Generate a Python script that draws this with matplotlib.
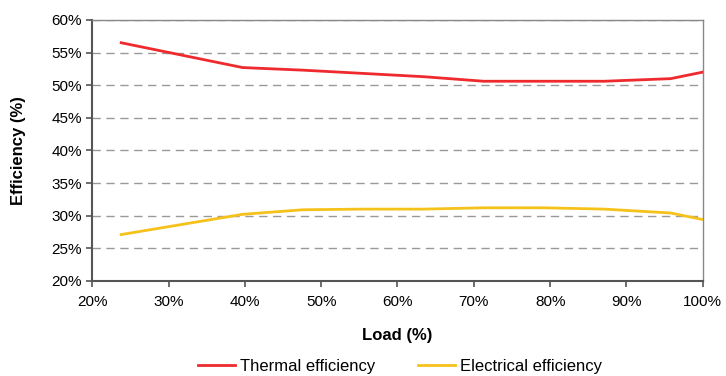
import matplotlib
matplotlib.use("Agg")
import matplotlib.pyplot as plt
from matplotlib.ticker import PercentFormatter
from matplotlib import font_manager

families = [f.name for f in font_manager.fontManager.ttflist]
base = "Liberation Sans Narrow" if "Liberation Sans Narrow" in families else "Liberation Sans"
plt.rcParams["font.family"] = [base, "DejaVu Sans"]

load = [23.8, 39.7, 47.6, 55.5, 63.4, 71.3, 79.2, 87.1, 95.8, 100.0]
thermal = [56.5, 52.7, 52.3, 51.8, 51.3, 50.6, 50.6, 50.6, 51.0, 52.0]
electrical = [27.1, 30.2, 30.9, 31.0, 31.0, 31.2, 31.2, 31.0, 30.4, 29.4]

fig = plt.figure(figsize=(7.26, 3.76), dpi=100)
ax = fig.add_axes([0.127, 0.253, 0.841, 0.694])

ax.plot(load, thermal, color="#ee2a2e", lw=2.0, label="Thermal efficiency", zorder=3)
ax.plot(load, electrical, color="#f5c21b", lw=2.0, label="Electrical efficiency", zorder=3)

ax.set_xlim(20, 100)
ax.set_ylim(20, 60)
ax.set_xticks(range(20, 101, 10))
ax.set_yticks(range(20, 61, 5))
ax.xaxis.set_major_formatter(PercentFormatter(decimals=0))
ax.yaxis.set_major_formatter(PercentFormatter(decimals=0))
ax.tick_params(axis="both", labelsize=11, length=4, width=1.2, color="#555555", direction="out")
ax.tick_params(axis="x", pad=6)

ax.yaxis.grid(True, linestyle=(0, (6, 4)), color="#999999", lw=1.0)
ax.set_axisbelow(True)
for side in ("left", "bottom"):
    ax.spines[side].set_color("#555555")
    ax.spines[side].set_linewidth(1.5)
for side in ("top", "right"):
    ax.spines[side].set_color("#888888")
    ax.spines[side].set_linewidth(1.0)

ax.set_xlabel("Load (%)", fontsize=12, fontweight="bold", labelpad=14)
ax.set_ylabel("Efficiency (%)", fontsize=12, fontweight="bold", labelpad=18)

fig.legend(loc="lower center", bbox_to_anchor=(0.551, -0.035), ncol=2, frameon=False,
           fontsize=12, handlelength=2.2, columnspacing=2.6, handletextpad=0.3)

fig.savefig("out.png", dpi=100)
